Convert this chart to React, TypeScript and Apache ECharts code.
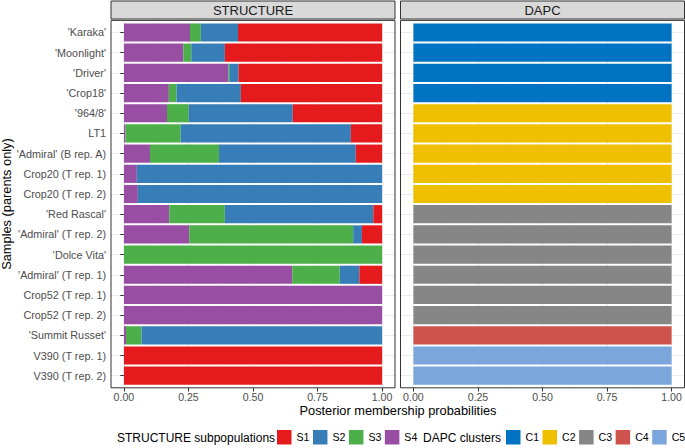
import React, { useEffect, useRef } from "react";
import * as echarts from "echarts";

const samples = [
  "'Karaka'", "'Moonlight'", "'Driver'", "'Crop18'", "'964/8'", "LT1",
  "'Admiral' (B rep. A)", "Crop20 (T rep. 1)", "Crop20 (T rep. 2)", "'Red Rascal'",
  "'Admiral' (T rep. 2)", "'Dolce Vita'", "'Admiral' (T rep. 1)", "Crop52 (T rep. 1)",
  "Crop52 (T rep. 2)", "'Summit Russet'", "V390 (T rep. 1)", "V390 (T rep. 2)",
];

const s1 = [0.558, 0.609, 0.556, 0.547, 0.346, 0.121, 0.102, 0, 0, 0.034, 0.078, 0, 0.088, 0, 0, 0, 1, 1];
const s2 = [0.144, 0.13, 0.036, 0.249, 0.403, 0.659, 0.53, 0.95, 0.946, 0.575, 0.034, 0, 0.076, 0, 0, 0.932, 0, 0];
const s3 = [0.042, 0.031, 0.004, 0.03, 0.084, 0.214, 0.267, 0, 0, 0.215, 0.635, 1, 0.184, 0, 0, 0.06, 0, 0];
const s4 = [0.256, 0.23, 0.404, 0.174, 0.167, 0.006, 0.101, 0.05, 0.054, 0.176, 0.253, 0, 0.652, 1, 1, 0.008, 0, 0];

const dapcCluster = ["C1", "C1", "C1", "C1", "C2", "C2", "C2", "C2", "C2", "C3", "C3", "C3", "C3", "C3", "C3", "C4", "C5", "C5"];
const dapcMembership = [1, 1, 1, 1, 1, 1, 1, 1, 1, 1, 1, 1, 1, 1, 1, 1, 1, 1];

const structureNames = ["S1", "S2", "S3", "S4"];
const clusterNames = ["C1", "C2", "C3", "C4", "C5"];
const majorTicks = [0, 0.25, 0.5, 0.75, 1];
const minorTicks = [0.125, 0.375, 0.625, 0.875];

const structureColors: Record<string, string> = { S1: "#E41A1C", S2: "#377EB8", S3: "#4DAF4A", S4: "#984EA3" };
const clusterColors: Record<string, string> = { C1: "#0073C2", C2: "#EFC000", C3: "#868686", C4: "#CD534C", C5: "#7AA6DC" };

const FONT = "Liberation Sans, Arial, Helvetica, sans-serif";

export default function App() {
  const ref = useRef<HTMLDivElement>(null);
  useEffect(() => {
    document.body.style.margin = "0";
    const chart = echarts.init(ref.current!, null, { renderer: "svg" });

    const panels = [
      { left: 111, title: "STRUCTURE" },
      { left: 400.5, title: "DAPC" },
    ];
    const panelW = 284;
    const panelTop = 20.4;
    const panelBottom = 387.8;
    const gridTop = 22.4;
    const gridH = 363.4;

    const grids = panels.map((p) => ({ left: p.left, top: gridTop, width: panelW, height: gridH, containLabel: false }));

    const xAxes: any[] = [];
    panels.forEach((_, gi) => {
      xAxes.push({
        type: "value", gridIndex: gi, min: -0.05, max: 1.05, offset: 2,
        axisLine: { show: false },
        axisTick: { show: true, customValues: majorTicks, length: 3.7, lineStyle: { color: "#333333", width: 1 } },
        axisLabel: {
          customValues: majorTicks, formatter: (v: number) => v.toFixed(2),
          color: "#4D4D4D", fontSize: 10.6, fontFamily: FONT, margin: 4,
        },
        splitLine: { show: true, customValues: majorTicks, lineStyle: { color: "#EBEBEB", width: 1 } },
      });
      xAxes.push({
        type: "value", gridIndex: gi, min: -0.05, max: 1.05, position: "top",
        axisLine: { show: false },
        axisTick: { show: false, customValues: minorTicks },
        axisLabel: { show: false },
        splitLine: { show: true, customValues: minorTicks, lineStyle: { color: "#EBEBEB", width: 0.5 } },
      });
    });

    const yAxes = panels.map((_, gi) => ({
      type: "category", gridIndex: gi, data: samples, inverse: true,
      axisLine: { show: false },
      axisTick: { show: gi === 0, alignWithLabel: true, length: 3.7, lineStyle: { color: "#333333" } },
      axisLabel: { show: gi === 0, interval: 0, color: "#4D4D4D", fontSize: 10.8, fontFamily: FONT, margin: 5 },
      splitLine: { show: true, interval: 0, alignWithLabel: true, lineStyle: { color: "#EBEBEB", width: 1 } },
    }));

    const structData: Record<string, number[]> = { S1: s1, S2: s2, S3: s3, S4: s4 };
    const series: any[] = [];
    ["S4", "S3", "S2", "S1"].forEach((n) => {
      series.push({
        name: n, type: "bar", stack: "structure", xAxisIndex: 0, yAxisIndex: 0,
        data: structData[n], barWidth: "90%", itemStyle: { color: structureColors[n] },
        emphasis: { disabled: true },
      });
    });
    clusterNames.forEach((c) => {
      series.push({
        name: c, type: "bar", stack: "dapc", xAxisIndex: 2, yAxisIndex: 1,
        data: samples.map((_, i) => (dapcCluster[i] === c ? dapcMembership[i] : "-")),
        barWidth: "90%", itemStyle: { color: clusterColors[c] },
        emphasis: { disabled: true },
      });
    });

    const graphic: any[] = [];
    panels.forEach((p) => {
      graphic.push({
        type: "rect", shape: { x: p.left, y: 1, width: panelW, height: 18 },
        style: { fill: "#D9D9D9", stroke: "#333333", lineWidth: 1 }, z: 100,
      });
      graphic.push({
        type: "text", x: p.left + panelW / 2, y: 10.5, z: 101,
        style: { text: p.title, fill: "#1A1A1A", fontSize: 13, fontFamily: FONT, align: "center", verticalAlign: "middle" },
      });
      graphic.push({
        type: "rect", shape: { x: p.left, y: panelTop, width: panelW, height: panelBottom - panelTop },
        style: { fill: "none", stroke: "#333333", lineWidth: 1 }, z: 100,
      });
    });
    graphic.push({
      type: "text", x: 398, y: 410,
      style: { text: "Posterior membership probabilities", fill: "#000", fontSize: 12.8, fontFamily: FONT, align: "center", verticalAlign: "middle" },
    });
    graphic.push({
      type: "text", x: 6, y: 204, rotation: Math.PI / 2,
      style: { text: "Samples (parents only)", fill: "#000", fontSize: 12.8, fontFamily: FONT, align: "center", verticalAlign: "middle" },
    });
    graphic.push({
      type: "text", x: 117, y: 437.5,
      style: { text: "STRUCTURE subpopulations", fill: "#000", fontSize: 12, fontFamily: FONT, align: "left", verticalAlign: "middle" },
    });
    graphic.push({
      type: "text", x: 423, y: 437.5,
      style: { text: "DAPC clusters", fill: "#000", fontSize: 12, fontFamily: FONT, align: "left", verticalAlign: "middle" },
    });

    const legendBase = {
      orient: "horizontal", top: 430, itemWidth: 14.5, itemHeight: 14.5, itemGap: 3.5,
      icon: "rect", selectedMode: false, padding: 0,
      textStyle: { color: "#000", fontSize: 10.6, fontFamily: FONT, padding: [0, 0, 0, 0] },
    };

    chart.setOption({
      animation: false,
      textStyle: { fontFamily: FONT },
      grid: grids,
      xAxis: xAxes,
      yAxis: yAxes,
      series,
      legend: [
        { ...legendBase, left: 277, width: 160, data: structureNames },
        { ...legendBase, left: 506, width: 200, data: clusterNames },
      ],
      graphic,
    });
    return () => chart.dispose();
  }, []);
  return <div ref={ref} style={{ width: 685, height: 448 }} />;
}
